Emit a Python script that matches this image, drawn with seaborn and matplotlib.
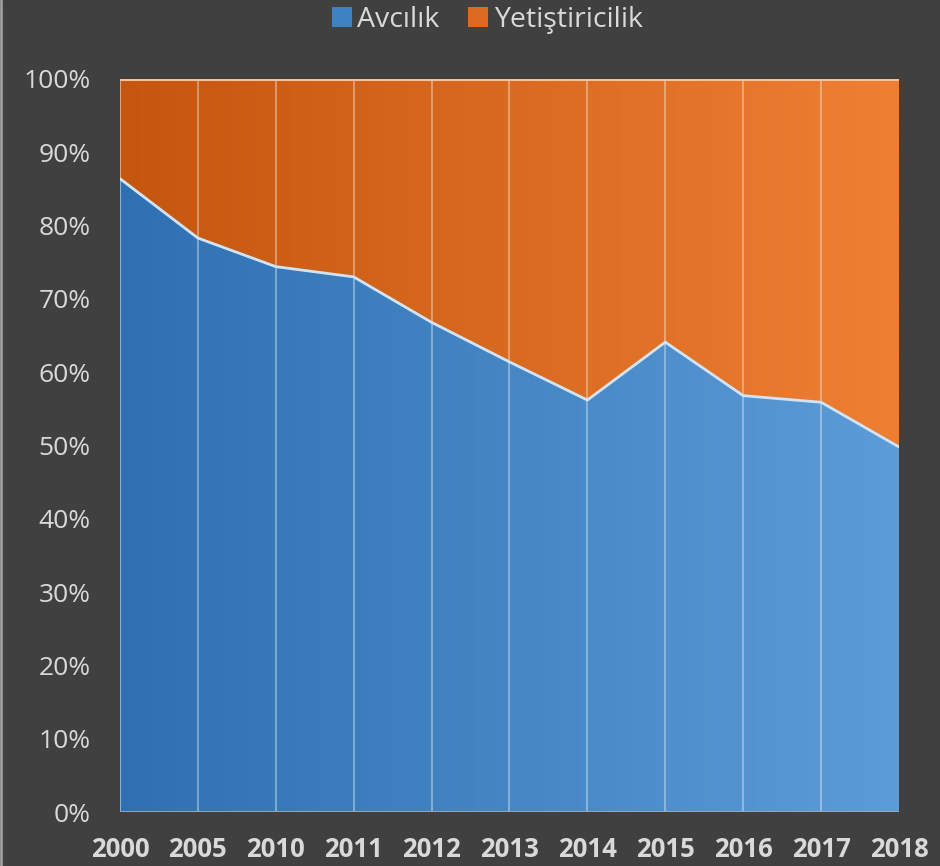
import numpy as np
import pandas as pd
import matplotlib
matplotlib.use("Agg")
import matplotlib.pyplot as plt
import seaborn as sns
from matplotlib.patches import Patch
from matplotlib.lines import Line2D
from matplotlib.colors import to_rgb

years = ["2000", "2005", "2010", "2011", "2012", "2013", "2014", "2015", "2016", "2017", "2018"]
avcilik = [86.4, 78.3, 74.4, 73.0, 66.8, 61.4, 56.2, 64.1, 56.8, 55.9, 49.8]
yetistiricilik = [100 - v for v in avcilik]
series_names = ["Avcılık", "Yetiştiricilik"]

sns.set_theme(style="dark")
plt.rcParams["font.family"] = ["Open Sans", "DejaVu Sans"]

BG = "#404040"
TXT = "#D9D9D9"

df = pd.DataFrame({"idx": np.arange(len(years)), "year": years,
                   "Avcılık": avcilik, "Yetiştiricilik": yetistiricilik})

fig = plt.figure(figsize=(9.4, 8.66), dpi=100, facecolor=BG)
ax = fig.add_axes([120/940, 1-812/866, (899-120)/940, (812-79)/866])
ax.set_facecolor(BG)

x = df["idx"].values
low = df["Avcılık"].values
top = low + df["Yetiştiricilik"].values

def grad_fill(y0, y1, c_left, c_right):
    poly = ax.fill_between(x, y0, y1, color="none", lw=0)
    n = 256
    cl, cr = np.array(to_rgb(c_left)), np.array(to_rgb(c_right))
    t = np.linspace(0, 1, n)[None, :, None]
    img = cl[None, None, :] * (1 - t) + cr[None, None, :] * t
    im = ax.imshow(img, extent=[x[0], x[-1], 0, 100], aspect="auto",
                   origin="lower", zorder=1, interpolation="bilinear")
    path = poly.get_paths()[0]
    im.set_clip_path(path, transform=ax.transData)

grad_fill(np.zeros_like(low), low, "#2E70B2", "#5C9CD8")
grad_fill(low, top, "#C4560F", "#EE7F33")

for xi in x[1:-1]:
    ax.axvline(xi, color="white", alpha=0.35, lw=1.5, zorder=2)
ax.axvline(x[0], color="white", alpha=0.45, lw=1.5, zorder=2)

sns.lineplot(data=df, x="idx", y="Avcılık", ax=ax, color="#D2E4F4", lw=2, zorder=3)
ax.plot(x, top, color="#F6C29E", lw=2.2, zorder=3)
ax.axhline(0, color="#A6A6A6", lw=2, zorder=3)

ax.set_xlim(x[0], x[-1])
ax.set_ylim(0, 100)
ax.set_yticks(np.arange(0, 101, 10))
ax.set_yticklabels([f"{v}%" for v in range(0, 101, 10)], fontsize=19, color=TXT)
ax.set_xticks(x)
ax.set_xticklabels(years, fontsize=18.5, fontweight="bold", color=TXT)
ax.tick_params(axis="y", length=0, pad=21)
ax.tick_params(axis="x", length=0, pad=17)
ax.set_xlabel("")
ax.set_ylabel("")
ax.grid(False)
for s in ax.spines.values():
    s.set_visible(False)

handles = [Patch(facecolor="#3F82C4", edgecolor="none"),
           Patch(facecolor="#DC6A20", edgecolor="none")]
fig.legend(handles, series_names, loc="center", bbox_to_anchor=(487/940, 1-20/866),
           ncol=2, frameon=False, fontsize=20.5, labelcolor=TXT,
           handlelength=0.7, handleheight=0.7, handletextpad=0.2, columnspacing=1.0)

fig.add_artist(Line2D([1/940, 1/940], [0, 1], transform=fig.transFigure,
                      color="#A6A6A6", lw=1.8))

fig.savefig("out.png", dpi=100, facecolor=BG)
